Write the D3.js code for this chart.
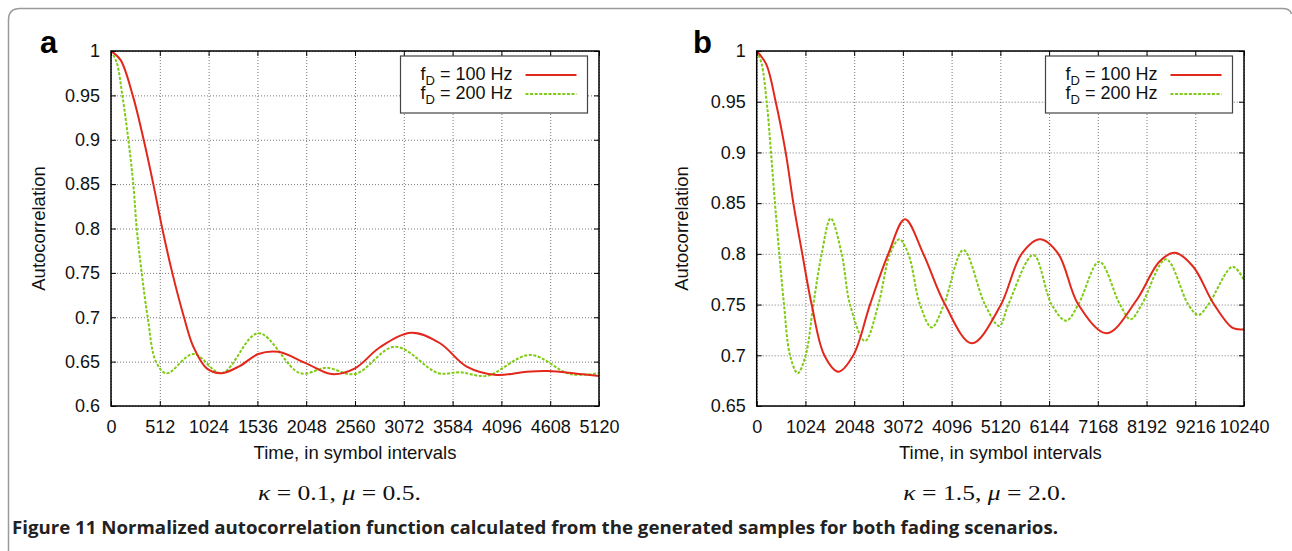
<!DOCTYPE html>
<html>
<head>
<meta charset="utf-8">
<script src="https://cdnjs.cloudflare.com/ajax/libs/d3/7.8.5/d3.min.js"></script>
<style>
  html, body { margin: 0; padding: 0; background: #fff; }
  svg { display: block; }
  .tick text { font-family: "Liberation Sans", Arial, Helvetica, sans-serif; font-size: 18px; fill: #111; }
</style>
</head>
<body>
<div id="chart"></div>
<script>

// ---- data ----
// panel a: kappa = 0.1, mu = 0.5
let xTicksA = [0, 512, 1024, 1536, 2048, 2560, 3072, 3584, 4096, 4608, 5120];
let yTicksA = [0.6, 0.65, 0.7, 0.75, 0.8, 0.85, 0.9, 0.95, 1];

let redA_t = [0, 100, 228, 343, 444, 538, 643, 766, 864, 1004, 1161, 1350, 1546, 1755, 2048, 2316, 2560, 2822, 3155, 3452, 3732, 4047, 4362, 4589, 4887, 5120];
let redA_v = [1, 0.99, 0.95, 0.9, 0.85, 0.8, 0.75, 0.7, 0.6668, 0.6424, 0.637, 0.645, 0.6586, 0.661, 0.648, 0.636, 0.6425, 0.6662, 0.6826, 0.6707, 0.6444, 0.635, 0.6387, 0.6394, 0.6364, 0.6338];

let greenA_t = [0, 60, 119, 182, 234, 270, 322, 385, 472, 584, 864, 1161, 1546, 1983, 2263, 2560, 2980, 3434, 3662, 3942, 4397, 4816, 5120];
let greenA_v = [1, 0.987, 0.95, 0.9, 0.85, 0.8, 0.75, 0.7, 0.65, 0.6368, 0.6586, 0.637, 0.682, 0.637, 0.643, 0.636, 0.6668, 0.637, 0.638, 0.634, 0.6575, 0.636, 0.637];

// panel b: kappa = 1.5, mu = 2.0
let xTicksB = [0, 1024, 2048, 3072, 4096, 5120, 6144, 7168, 8192, 9216, 10240];
let yTicksB = [0.65, 0.7, 0.75, 0.8, 0.85, 0.9, 0.95, 1];

let redB_t = [0, 200, 399, 609, 770, 958, 1155, 1421, 1715, 2030, 2381, 2766, 3116, 3501, 3957, 4518, 5112, 5568, 5953, 6338, 6758, 7354, 7984, 8460, 8790, 9174, 9595, 10000, 10240];
let redB_v = [1, 0.987, 0.95, 0.9, 0.85, 0.8, 0.75, 0.7, 0.6838, 0.7, 0.75, 0.8, 0.834, 0.8, 0.75, 0.7118, 0.748, 0.8, 0.8143, 0.8, 0.75, 0.7217, 0.7545, 0.7923, 0.8011, 0.7873, 0.7513, 0.727, 0.7256];

let greenB_t = [0, 100, 210, 300, 384, 475, 574, 700, 861, 1029, 1190, 1365, 1555, 1786, 1961, 2276, 2556, 2801, 2997, 3186, 3432, 3677, 3935, 4342, 4797, 5098, 5287, 5813, 6199, 6500, 6758, 7199, 7634, 7858, 8089, 8600, 9069, 9279, 9490, 10002, 10240];
let greenB_v = [1, 0.988, 0.95, 0.9, 0.85, 0.8, 0.75, 0.7, 0.6822, 0.7, 0.75, 0.8, 0.835, 0.8, 0.75, 0.7141, 0.75, 0.8, 0.8143, 0.8, 0.75, 0.7275, 0.75, 0.8038, 0.75, 0.7289, 0.75, 0.7989, 0.75, 0.7341, 0.75, 0.7923, 0.75, 0.7355, 0.75, 0.7946, 0.75, 0.7397, 0.75, 0.7873, 0.7742];

let seriesNames = ["100 Hz", "200 Hz"];
let captionsKappa = ["0.1", "1.5"];
let captionsMu = ["0.5", "2.0"];
let figureCaption = "Figure 11 Normalized autocorrelation function calculated from the generated samples for both fading scenarios.";

// ---- drawing ----
const W = 1292, H = 551;
const RED = "#e2281c", GREEN = "#7ecb12";
const SANS = '"Liberation Sans", Arial, Helvetica, sans-serif';
const SERIF = '"Liberation Serif", "DejaVu Serif", "Times New Roman", serif';

let svg = d3.select("#chart").append("svg")
    .attr("width", W).attr("height", H);

// outer frame (top + left, rounded corners)
svg.append("path")
    .attr("d", "M8.5,551 L8.5,20 Q8.5,8.5 20,8.5 L1282,8.5 Q1290.5,8.5 1291.5,14")
    .attr("fill", "none")
    .attr("stroke", "#9a9a9a")
    .attr("stroke-width", 1.5);

function zip(ts, vs) {
    return ts.map(function (t, i) { return [t, vs[i]]; });
}

function drawPanel(p) {
    let x = d3.scaleLinear().domain([0, p.xMax]).range([p.left, p.left + p.width]);
    let y = d3.scaleLinear().domain([p.yMin, 1]).range([p.top + p.height, p.top]);

    let g = svg.append("g");

    // grid
    g.append("g")
        .attr("transform", `translate(0,${p.top + p.height})`)
        .call(d3.axisBottom(x).tickValues(p.xTicks).tickSize(-p.height).tickFormat(""))
        .call(s => s.select(".domain").remove())
        .call(s => s.selectAll("line").attr("stroke", "#777").attr("stroke-dasharray", "1,2").attr("stroke-width", 1));
    g.append("g")
        .attr("transform", `translate(${p.left},0)`)
        .call(d3.axisLeft(y).tickValues(p.yTicks).tickSize(-p.width).tickFormat(""))
        .call(s => s.select(".domain").remove())
        .call(s => s.selectAll("line").attr("stroke", "#777").attr("stroke-dasharray", "1,2").attr("stroke-width", 1));

    // curves
    let clipId = "clip-" + p.label;
    svg.append("clipPath").attr("id", clipId)
        .append("rect")
        .attr("x", p.left).attr("y", p.top - 2)
        .attr("width", p.width).attr("height", p.height + 2);

    let line = d3.line()
        .x(d => x(d[0]))
        .y(d => y(d[1]))
        .curve(d3.curveCatmullRom.alpha(0.5));

    g.append("path")
        .datum(zip(p.greenT, p.greenV))
        .attr("clip-path", `url(#${clipId})`)
        .attr("d", line)
        .attr("fill", "none")
        .attr("stroke", GREEN)
        .attr("stroke-width", 2)
        .attr("stroke-dasharray", "3,1.6");

    g.append("path")
        .datum(zip(p.redT, p.redV))
        .attr("clip-path", `url(#${clipId})`)
        .attr("d", line)
        .attr("fill", "none")
        .attr("stroke", RED)
        .attr("stroke-width", 2);

    // ticks, inward on all four sides
    let bottom = g.append("g")
        .attr("transform", `translate(0,${p.top + p.height})`)
        .call(d3.axisBottom(x).tickValues(p.xTicks).tickSize(-5).tickPadding(14).tickFormat(d => String(d)));
    bottom.select(".domain").remove();
    bottom.selectAll("line").attr("stroke", "#000");

    let top = g.append("g")
        .attr("transform", `translate(0,${p.top})`)
        .call(d3.axisTop(x).tickValues(p.xTicks).tickSize(-5).tickFormat(""));
    top.select(".domain").remove();
    top.selectAll("line").attr("stroke", "#000");

    let left = g.append("g")
        .attr("transform", `translate(${p.left},0)`)
        .call(d3.axisLeft(y).tickValues(p.yTicks).tickSize(-5).tickPadding(11).tickFormat(d => String(d)));
    left.select(".domain").remove();
    left.selectAll("line").attr("stroke", "#000");

    let right = g.append("g")
        .attr("transform", `translate(${p.left + p.width},0)`)
        .call(d3.axisRight(y).tickValues(p.yTicks).tickSize(-5).tickFormat(""));
    right.select(".domain").remove();
    right.selectAll("line").attr("stroke", "#000");

    // border
    g.append("rect")
        .attr("x", p.left).attr("y", p.top)
        .attr("width", p.width).attr("height", p.height)
        .attr("fill", "none")
        .attr("stroke", "#000")
        .attr("stroke-width", 1.5);

    // axis titles
    g.append("text")
        .attr("x", p.left + p.width / 2)
        .attr("y", p.top + p.height + 53)
        .attr("text-anchor", "middle")
        .attr("font-family", SANS)
        .attr("font-size", 18.5)
        .attr("fill", "#111")
        .text("Time, in symbol intervals");

    g.append("text")
        .attr("transform", `translate(${p.left - p.yTitleOff},${p.top + p.height / 2}) rotate(-90)`)
        .attr("text-anchor", "middle")
        .attr("font-family", SANS)
        .attr("font-size", 18.5)
        .attr("fill", "#111")
        .text("Autocorrelation");

    // panel letter
    g.append("text")
        .attr("x", p.letterX)
        .attr("y", 53)
        .attr("font-family", SANS)
        .attr("font-weight", "bold")
        .attr("font-size", 31)
        .attr("fill", "#000")
        .text(p.label);

    // legend
    let lg = g.append("g").attr("transform", `translate(${p.legendX},56)`);
    lg.append("rect")
        .attr("x", 0).attr("y", 0)
        .attr("width", 187).attr("height", 57)
        .attr("fill", "#fff")
        .attr("stroke", "#444")
        .attr("stroke-width", 1.2);

    let rows = [
        {name: seriesNames[0], color: RED, dash: null},
        {name: seriesNames[1], color: GREEN, dash: "3,1.6"}
    ];
    rows.forEach(function (r, i) {
        let ty = 24 + i * 19;
        let t = lg.append("text")
            .attr("x", 112).attr("y", ty)
            .attr("text-anchor", "end")
            .attr("font-family", SANS)
            .attr("font-size", 18)
            .attr("fill", "#111");
        t.append("tspan").text("f");
        t.append("tspan").attr("font-size", 13).attr("dy", 5).text("D");
        t.append("tspan").attr("dy", -5).text(" = " + r.name);

        lg.append("line")
            .attr("x1", 125).attr("x2", 176)
            .attr("y1", ty - 5).attr("y2", ty - 5)
            .attr("stroke", r.color)
            .attr("stroke-width", 2)
            .attr("stroke-dasharray", r.dash);
    });

    // sub caption
    let cap = g.append("text")
        .attr("x", p.left + p.width / 2 - 97)
        .attr("y", 500)
        .attr("font-family", SERIF)
        .attr("font-size", 20)
        .attr("fill", "#111")
        .attr("textLength", 163)
        .attr("lengthAdjust", "spacingAndGlyphs");
    cap.append("tspan").attr("font-style", "italic").text("κ");
    cap.append("tspan").text(" = " + p.kappa + ", ");
    cap.append("tspan").attr("font-style", "italic").text("μ");
    cap.append("tspan").text(" = " + p.mu + ".");
}

drawPanel({
    label: "a", letterX: 40,
    left: 111, top: 51, width: 488, height: 355,
    xMax: 5120, yMin: 0.6, xTicks: xTicksA, yTicks: yTicksA,
    redT: redA_t, redV: redA_v, greenT: greenA_t, greenV: greenA_v,
    yTitleOff: 66, legendX: 400.5,
    kappa: captionsKappa[0], mu: captionsMu[0]
});

drawPanel({
    label: "b", letterX: 693,
    left: 756.7, top: 51, width: 487.3, height: 355,
    xMax: 10240, yMin: 0.65, xTicks: xTicksB, yTicks: yTicksB,
    redT: redB_t, redV: redB_v, greenT: greenB_t, greenV: greenB_v,
    yTitleOff: 69, legendX: 1045.5,
    kappa: captionsKappa[1], mu: captionsMu[1]
});

// figure caption
svg.append("text")
    .attr("x", 12)
    .attr("y", 534)
    .attr("font-family", '"Open Sans", "Liberation Sans", sans-serif')
    .attr("font-weight", "bold")
    .attr("font-size", 17)
    .attr("fill", "#222")
    .attr("textLength", 1046)
    .attr("lengthAdjust", "spacingAndGlyphs")
    .text(figureCaption);

</script>
</body>
</html>
